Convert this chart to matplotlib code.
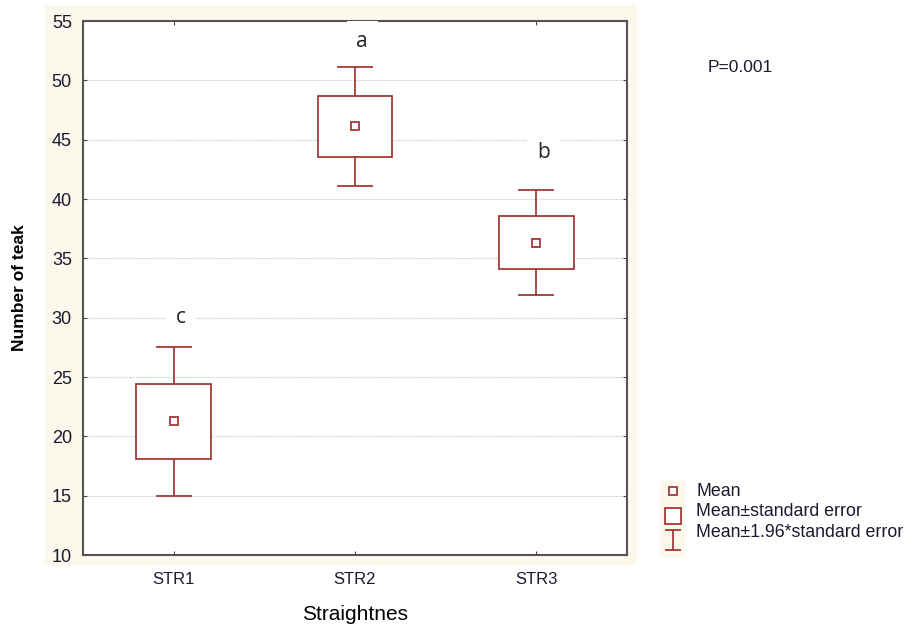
import matplotlib
matplotlib.use('Agg')
import matplotlib.pyplot as plt
from matplotlib.lines import Line2D
from matplotlib.patches import Rectangle
from matplotlib.path import Path

# data
groups = ['STR1', 'STR2', 'STR3']
means = [21.3, 46.15, 36.3]
se_low = [18.1, 43.5, 34.1]
se_high = [24.4, 48.7, 38.6]
ci_low = [15.0, 41.1, 31.9]
ci_high = [27.5, 51.1, 40.8]
letters = ['c', 'a', 'b']
letter_y = [30.0, 53.3, 43.9]

red = '#a33a3a'
cream = '#fdf8ec'

plt.rcParams['font.family'] = ['Liberation Sans', 'DejaVu Sans']

fig = plt.figure(figsize=(9.09, 6.29), dpi=100)
fig.patches.append(Rectangle((0.0495, 0.102), 0.651, 0.89, transform=fig.transFigure,
                             facecolor=cream, edgecolor='none', zorder=-10))
fig.patches.append(Rectangle((0.726, 0.113), 0.028, 0.122, transform=fig.transFigure,
                             facecolor=cream, edgecolor='none', zorder=-10))

ax = fig.add_axes([0.0913, 0.1176, 0.5985, 0.849])
x = list(range(1, len(groups) + 1))

# whiskers (1.96*SE)
ax.vlines(x, ci_low, se_low, color=red, lw=1.3, zorder=2)
ax.vlines(x, se_high, ci_high, color=red, lw=1.3, zorder=2)
ax.hlines(ci_low, [i - 0.1 for i in x], [i + 0.1 for i in x], color=red, lw=1.3, zorder=2)
ax.hlines(ci_high, [i - 0.1 for i in x], [i + 0.1 for i in x], color=red, lw=1.3, zorder=2)

# SE boxes
heights = [h - l for h, l in zip(se_high, se_low)]
ax.bar(x, heights, bottom=se_low, width=0.41, facecolor='white', edgecolor=red, lw=1.3, zorder=3)

# means
ax.plot(x, means, ls='none', marker='s', ms=6, mfc='white', mec=red, mew=1.3, zorder=4)

# significance letters
for xi, yy, lt in zip(x, letter_y, letters):
    ax.text(xi + 0.04, yy, lt, ha='center', va='center', fontsize=15,
            family=['Open Sans', 'DejaVu Sans'], color='#222222', zorder=5, clip_on=False,
            bbox=dict(facecolor='white', edgecolor='none', pad=7))

ax.set_xlim(0.5, 3.5)
ax.set_ylim(10, 55)
ax.set_yticks(range(10, 56, 5))
ax.set_xticks(x)
ax.set_xticklabels(groups)
ax.yaxis.grid(True, ls=(0, (1, 1)), color='#c8c8c8', lw=0.9)
ax.set_axisbelow(True)
ax.tick_params(axis='y', labelsize=13, length=3, direction='in', right=True, pad=8, colors='#444444', labelcolor='#1a1a2e')
ax.tick_params(axis='x', labelsize=12, length=3, direction='in', top=True, pad=12, colors='#444444', labelcolor='#1a1a2e')
for s in ax.spines.values():
    s.set_color('#555555')
    s.set_linewidth(1.5)

ax.set_ylabel('Number of teak', fontsize=12.5, fontweight='bold', labelpad=18)
ax.set_xlabel('Straightnes', fontsize=15, labelpad=13)

fig.text(0.779, 0.892, 'P=0.001', fontsize=12.5, ha='left', va='center', color='#1a1a2e')

# legend drawn by hand
ibeam = Path([(-0.8, -1), (0.8, -1), (0, -1), (0, 1), (-0.8, 1), (0.8, 1)],
             [Path.MOVETO, Path.LINETO, Path.MOVETO, Path.LINETO, Path.MOVETO, Path.LINETO])
leg_x = 0.740
leg_items = [
    (0.219, dict(marker='s', ms=6, mfc='white', mec=red, mew=1.3), 'Mean'),
    (0.180, dict(marker='s', ms=12, mfc='white', mec=red, mew=1.3), 'Mean±standard error'),
    (0.141, dict(marker=ibeam, ms=14, mec=red, mew=1.3), 'Mean±1.96*standard error'),
]
for yy, style, label in leg_items:
    fig.add_artist(Line2D([leg_x], [yy], transform=fig.transFigure, ls='none', **style))
text_y = [0.219, 0.187, 0.154]
for yy, (_, _, label) in zip(text_y, leg_items):
    fig.text(0.766, yy, label, fontsize=12.8, ha='left', va='center', color='#1a1a2e')

fig.savefig('out.png', dpi=100)
